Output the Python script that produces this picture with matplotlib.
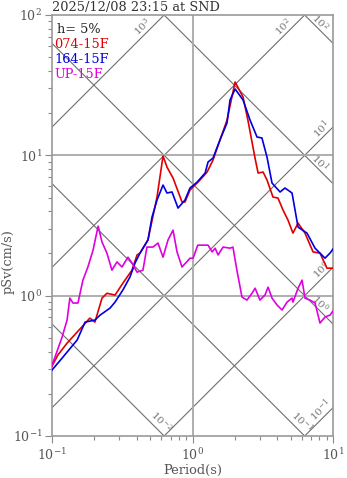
import numpy as np
import matplotlib
matplotlib.use("Agg")
import matplotlib.pyplot as plt
from matplotlib.ticker import LogLocator, LogFormatterSciNotation, NullFormatter

plt.rcParams['font.family'] = ['DejaVu Serif']
plt.rcParams['mathtext.fontset'] = 'dejavuserif'

title = "2025/12/08 23:15 at SND"
damping = "h= 5%"

# pseudo velocity response, period (s) vs pSv (cm/s)
ns_period = [0.100, 0.110, 0.128, 0.151, 0.186, 0.202, 0.227, 0.246, 0.281, 0.320,
             0.371, 0.403, 0.423, 0.482, 0.559, 0.617, 0.658, 0.727, 0.842, 0.884,
             0.960, 1.13, 1.27, 1.40, 1.57, 1.76, 2.01, 2.29, 2.48, 2.79,
             2.93, 3.18, 3.39, 3.74, 4.06, 4.41, 4.78, 5.19, 5.64, 6.32,
             7.21, 8.08, 9.06, 10.0]
ns_psv = [0.315, 0.377, 0.459, 0.550, 0.692, 0.648, 0.961, 1.04, 1.01, 1.23,
          1.52, 1.95, 2.01, 2.50, 5.04, 9.89, 8.25, 6.89, 4.65, 4.65,
          5.66, 6.67, 7.60, 9.26, 12.9, 17.8, 33.3, 26.0, 17.8, 9.5,
          7.48, 7.60, 6.67, 5.04, 4.96, 4.07, 3.46, 2.79, 3.29, 2.79,
          2.05, 2.01, 1.57, 1.57]

ew_period = [0.100, 0.118, 0.151, 0.172, 0.202, 0.220, 0.259, 0.281, 0.320, 0.359,
             0.390, 0.423, 0.482, 0.515, 0.559, 0.617, 0.658, 0.715, 0.789, 0.884,
             0.960, 1.08, 1.23, 1.29, 1.40, 1.57, 1.76, 1.85, 2.01, 2.29,
             2.57, 2.88, 3.12, 3.39, 3.68, 4.20, 4.55, 5.11, 5.64, 6.53,
             7.45, 8.77, 9.52, 10.0]
ew_psv = [0.295, 0.359, 0.483, 0.648, 0.670, 0.727, 0.816, 0.900, 1.10, 1.36,
          1.71, 2.01, 2.49, 3.63, 4.80, 6.14, 5.39, 5.48, 4.21, 4.80,
          5.85, 6.45, 7.48, 8.96, 9.57, 12.9, 17.0, 24.8, 29.7, 24.8,
          17.8, 13.5, 13.3, 9.72, 6.35, 5.48, 5.85, 5.39, 3.08, 2.79,
          2.18, 1.85, 2.01, 2.15]

ud_period = [0.100, 0.105, 0.118, 0.128, 0.134, 0.141, 0.153, 0.166, 0.180, 0.196,
             0.213, 0.227, 0.246, 0.267, 0.290, 0.315, 0.347, 0.371, 0.403, 0.444,
             0.474, 0.523, 0.568, 0.617, 0.669, 0.727, 0.776, 0.842, 0.960, 1.01,
             1.09, 1.29, 1.38, 1.45, 1.52, 1.65, 1.85, 1.94, 2.07, 2.25,
             2.44, 2.65, 2.79, 3.02, 3.28, 3.45, 3.68, 4.00, 4.34, 4.71,
             5.11, 5.19, 5.64, 6.02, 6.32, 6.86, 7.45, 8.08, 8.77, 9.52,
             10.0]
ud_psv = [0.320, 0.365, 0.507, 0.670, 0.961, 0.886, 0.886, 1.29, 1.60, 2.11,
          3.13, 2.41, 2.01, 1.52, 1.74, 1.60, 1.88, 1.71, 1.47, 1.52,
          2.22, 2.22, 2.37, 1.88, 2.49, 2.93, 2.05, 1.60, 1.85, 1.85,
          2.29, 2.29, 2.05, 2.18, 1.95, 2.22, 2.18, 2.22, 1.52, 0.977,
          0.930, 1.04, 1.13, 0.930, 1.01, 1.15, 0.961, 0.857, 0.790, 0.900,
          0.961, 0.900, 1.13, 1.29, 0.960, 0.930, 0.886, 0.638, 0.704, 0.727,
          0.777]

series = [("074-15F", ns_period, ns_psv, "#e00000"),
          ("164-15F", ew_period, ew_psv, "#0000e0"),
          ("UP-15F", ud_period, ud_psv, "#e000e0")]

# tripartite guide lines: acceleration (gal) and displacement (cm)
acc_levels = [0.1, 1, 10, 100, 1000]
disp_levels = [0.01, 0.1, 1, 10, 100]

W, H = 347, 478
fig = plt.figure(figsize=(W / 100, H / 100), dpi=100)
ax = fig.add_axes([52 / W, 42 / H, 281 / W, 421 / H])
ax.set_xscale('log')
ax.set_yscale('log')
ax.set_xlim(0.1, 10)
ax.set_ylim(0.1, 100)

guide = '#6e6e6e'
tt = np.logspace(-1, 1, 200)
for a in acc_levels:
    ax.plot(tt, a * tt / (2 * np.pi), color=guide, lw=0.8, zorder=1)
for d in disp_levels:
    ax.plot(tt, 2 * np.pi * d / tt, color=guide, lw=0.8, zorder=1)


def label_pos_acc(a):
    c = np.log10(a / (2 * np.pi))
    if 2 - c <= 1:
        xe, ye, s = 2 - c, 2, 0.12
    else:
        xe, ye, s = 1, 1 + c, 0.05
    p = 0.035
    return 10 ** (xe - s - p), 10 ** (ye - s + p)


def label_pos_disp(d):
    c = np.log10(2 * np.pi * d)
    if c - 1 >= -1:
        xe, ye, s, p = 1, c - 1, 0.12, 0.03
    else:
        xe, ye, s, p = c + 1, -1, 0.06, 0.04
    return 10 ** (xe - s + p), 10 ** (ye + s + p)


def sci(v):
    return r"$10^{%d}$" % int(round(np.log10(v)))


for a in acc_levels:
    x, y = label_pos_acc(a)
    ax.text(x, y, sci(a), rotation=45, ha='center', va='center',
            rotation_mode='anchor', fontsize=7.5, color='#777777', zorder=2)
for d in disp_levels:
    x, y = label_pos_disp(d)
    ax.text(x, y, sci(d), rotation=-45, ha='center', va='center',
            rotation_mode='anchor', fontsize=7.5, color='#777777', zorder=2)

# major grid
ax.axvline(1, color='#a8a8a8', lw=1.3, zorder=1)
for v in [1, 10]:
    ax.axhline(v, color='#a8a8a8', lw=1.3, zorder=1)

for name, per, psv, col in series:
    ax.plot(per, psv, color=col, lw=1.2, zorder=3)

for sp in ax.spines.values():
    sp.set_color('#9a9a9a')
    sp.set_linewidth(1.2)

ax.xaxis.set_major_locator(LogLocator(base=10))
ax.yaxis.set_major_locator(LogLocator(base=10))
ax.xaxis.set_minor_locator(LogLocator(base=10, subs=np.arange(2, 10)))
ax.yaxis.set_minor_locator(LogLocator(base=10, subs=np.arange(2, 10)))
ax.xaxis.set_major_formatter(LogFormatterSciNotation())
ax.yaxis.set_major_formatter(LogFormatterSciNotation())
ax.xaxis.set_minor_formatter(NullFormatter())
ax.yaxis.set_minor_formatter(NullFormatter())
ax.tick_params(which='major', direction='out', length=5, width=0.8,
               color='#8a8a8a', labelsize=9, labelcolor='#555555', pad=3)
ax.tick_params(which='minor', direction='out', length=3, width=0.8, color='#8a8a8a')
ax.tick_params(axis='y', which='major', pad=2)

fig.text(52 / W, 1 - 11 / H, title, ha='left', va='baseline',
         fontsize=9.3, color='#333333')
fig.text(57 / W, 1 - 33 / H, damping, ha='left', va='baseline',
         fontsize=9.3, color='#222222')
for i, (name, per, psv, col) in enumerate(series):
    fig.text(54 / W, 1 - (48 + 15 * i) / H, name, ha='left', va='baseline',
             fontsize=9.3, color=col)

fig.text(192.5 / W, 1 - 470 / H, "Period(s)", ha='center', va='center',
         fontsize=9.3, color='#555555')
fig.text(8 / W, 1 - 262 / H, "pSv(cm/s)", ha='center', va='center',
         rotation=90, fontsize=9.3, color='#555555')

fig.savefig("out.png", dpi=100)
